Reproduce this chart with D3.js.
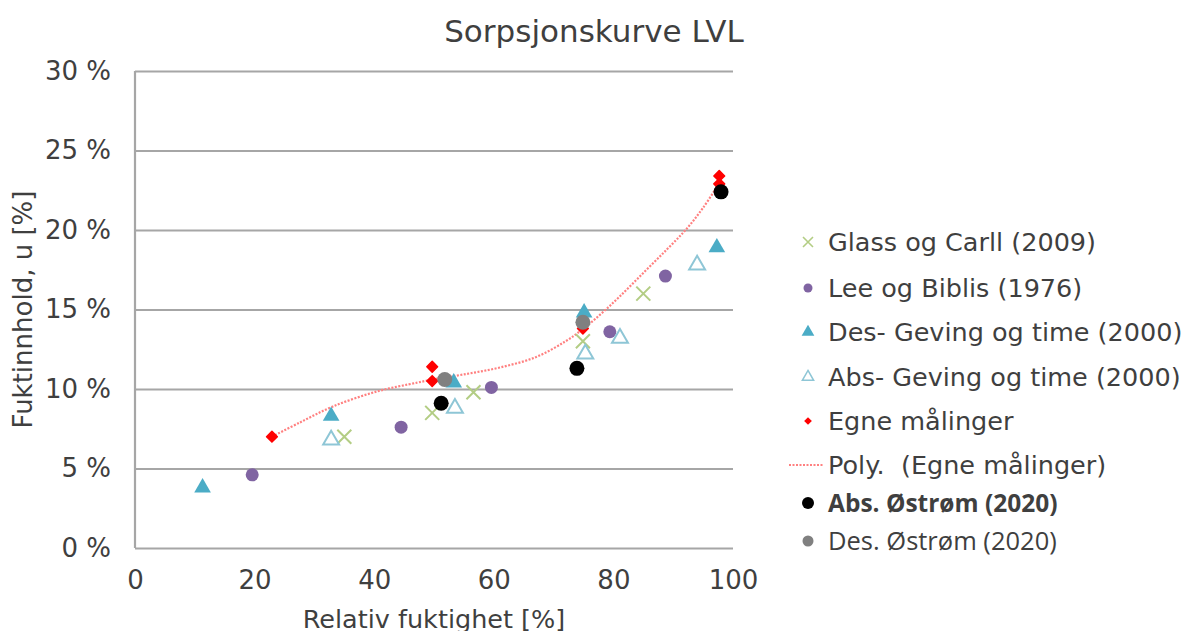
<!DOCTYPE html>
<html>
<head>
<meta charset="utf-8">
<script src="https://cdn.jsdelivr.net/npm/d3@7"></script>
<style>
  html, body { margin: 0; padding: 0; background: #fff; }
  svg { display: block; }
  text { font-family: "DejaVu Sans", Verdana, sans-serif; fill: #3f3f3f; white-space: pre; }
</style>
</head>
<body>
<svg id="chart" width="1192" height="631"></svg>
<script>
// Relative humidity [%] and moisture content [%] per source
const glassRH = [35.0, 49.7, 56.6, 74.9, 85.0];
const glassU  = [7.0, 8.5, 9.8, 13.0, 16.0];

const leeRH = [19.6, 44.5, 59.6, 79.4, 88.7];
const leeU  = [4.6, 7.6, 10.1, 13.6, 17.1];

const desGevingRH = [11.3, 32.8, 53.3, 75.1, 97.3];
const desGevingU  = [3.8, 8.3, 10.4, 14.8, 18.9];

const absGevingRH = [32.8, 53.5, 75.3, 81.1, 94.0];
const absGevingU  = [6.8, 8.8, 12.2, 13.2, 17.8];

const egneRH = [22.9, 49.7, 49.7, 74.9, 97.7, 97.7];
const egneU  = [7.0, 11.4, 10.5, 13.8, 23.4, 22.9];

// Trend line (polynomial fit of own measurements), sampled along the curve
const polyRH = [22.9, 27.6, 33.1, 40.5, 47.2, 49.8, 55.5, 61.0, 67.0, 72.0, 75.0, 78.0, 81.0, 85.0, 89.0, 92.3, 95.0, 97.8];
const polyU  = [7.0, 7.9, 8.9, 9.85, 10.4, 10.6, 10.95, 11.35, 12.0, 13.0, 13.8, 14.75, 15.8, 17.3, 18.8, 20.1, 21.4, 23.0];

const absOstromRH = [51.2, 73.9, 98.0];
const absOstromU  = [9.1, 11.3, 22.4];

const desOstromRH = [51.8, 74.9];
const desOstromU  = [10.6, 14.2];

const xTicks = [0, 20, 40, 60, 80, 100];
const yTicks = [0, 5, 10, 15, 20, 25, 30];

const legendLabels = [
  "Glass og Carll (2009)",
  "Lee og Biblis (1976)",
  "Des- Geving og time (2000)",
  "Abs- Geving og time (2000)",
  "Egne målinger",
  "Poly.  (Egne målinger)",
  "Abs. Østrøm (2020)",
  "Des. Østrøm (2020)"
];

const zip = (xs, ys) => xs.map((v, i) => [v, ys[i]]);

const svg = d3.select("#chart");

const x = d3.scaleLinear().domain([0, 100]).range([135, 733]);
const y = d3.scaleLinear().domain([0, 30]).range([548, 71]);

const gridColor = "#a6a6a6";
const font = "'DejaVu Sans', Verdana, sans-serif";

// Horizontal gridlines and y tick labels
const yAxis = svg.append("g")
  .attr("transform", `translate(${x(0)},0)`)
  .call(d3.axisLeft(y).tickValues(yTicks).tickSize(-(x(100) - x(0))).tickPadding(24)
    .tickFormat(d => d + " %"));
yAxis.select(".domain").remove();
yAxis.selectAll(".tick line").attr("stroke", gridColor).attr("stroke-width", 2.2);
yAxis.selectAll(".tick text").style("font-size", "26px").attr("fill", "#3f3f3f")
  .style("font-family", font);

// Vertical axis line
svg.append("line")
  .attr("x1", x(0)).attr("x2", x(0))
  .attr("y1", y(30)).attr("y2", y(0))
  .attr("stroke", gridColor).attr("stroke-width", 2.2);

// X tick labels
const xAxis = svg.append("g")
  .attr("transform", `translate(0,${y(0)})`)
  .call(d3.axisBottom(x).tickValues(xTicks).tickSize(0).tickPadding(23));
xAxis.select(".domain").remove();
xAxis.selectAll(".tick text").style("font-size", "26px").attr("fill", "#3f3f3f")
  .style("font-family", font);

// Title and axis titles
svg.append("text")
  .attr("x", 594).attr("y", 42)
  .attr("text-anchor", "middle")
  .style("font-size", "31px")
  .text("Sorpsjonskurve LVL");

svg.append("text")
  .attr("x", (x(0) + x(100)) / 2).attr("y", 628)
  .attr("text-anchor", "middle")
  .style("font-size", "25.5px")
  .text("Relativ fuktighet [%]");

svg.append("text")
  .attr("transform", `translate(32,${(y(0) + y(30)) / 2}) rotate(-90)`)
  .attr("text-anchor", "middle")
  .style("font-size", "26px")
  .text("Fuktinnhold, u [%]");

// Colours
const cGlass = "#b3cd84";
const cLee = "#8064a2";
const cDes = "#4bacc6";
const cAbs = "#8ec6d6";
const cEgne = "#ff0000";
const cPoly = "#ff8080";

const plot = svg.append("g");

// Trend line
plot.append("path")
  .datum(zip(polyRH, polyU))
  .attr("fill", "none")
  .attr("stroke", cPoly)
  .attr("stroke-width", 2.2)
  .attr("stroke-dasharray", "2,1.5")
  .attr("d", d3.line().x(d => x(d[0])).y(d => y(d[1])).curve(d3.curveCatmullRom.alpha(0.5)));

const tri = d3.symbol().type(d3.symbolTriangle);

// Glass og Carll: crosses
plot.selectAll(".glassx").data(zip(glassRH, glassU)).join("path")
  .attr("d", d => {
    const cx = x(d[0]), cy = y(d[1]), r = 7;
    return `M${cx - r},${cy - r}L${cx + r},${cy + r}M${cx - r},${cy + r}L${cx + r},${cy - r}`;
  })
  .attr("stroke", cGlass).attr("stroke-width", 2).attr("fill", "none");

// Lee og Biblis: purple dots
plot.selectAll(".lee").data(zip(leeRH, leeU)).join("circle")
  .attr("cx", d => x(d[0])).attr("cy", d => y(d[1])).attr("r", 6.5)
  .attr("fill", cLee);

// Geving og time, desorption: filled triangles
plot.selectAll(".des").data(zip(desGevingRH, desGevingU)).join("path")
  .attr("transform", d => `translate(${x(d[0])},${y(d[1])})`)
  .attr("d", tri.size(120)())
  .attr("fill", cDes);

// Geving og time, absorption: open triangles
plot.selectAll(".abs").data(zip(absGevingRH, absGevingU)).join("path")
  .attr("transform", d => `translate(${x(d[0])},${y(d[1])})`)
  .attr("d", tri.size(110)())
  .attr("fill", "#fff").attr("stroke", cAbs).attr("stroke-width", 2);

// Own measurements: small red diamonds
plot.selectAll(".egne").data(zip(egneRH, egneU)).join("path")
  .attr("transform", d => `translate(${x(d[0])},${y(d[1])}) rotate(45)`)
  .attr("d", d3.symbol().type(d3.symbolSquare).size(58)())
  .attr("fill", cEgne).attr("stroke", cEgne).attr("stroke-width", 1.5).attr("stroke-linejoin", "round");

// Østrøm desorption: grey dots
plot.selectAll(".desO").data(zip(desOstromRH, desOstromU)).join("circle")
  .attr("cx", d => x(d[0])).attr("cy", d => y(d[1])).attr("r", 7.5)
  .attr("fill", "#808080");

// Østrøm absorption: black dots
plot.selectAll(".absO").data(zip(absOstromRH, absOstromU)).join("circle")
  .attr("cx", d => x(d[0])).attr("cy", d => y(d[1])).attr("r", 7.5)
  .attr("fill", "#000");

// Legend
const legendY = [242, 288, 332, 377, 421, 465, 503, 541];
const lg = svg.append("g");
const mx = 808, tx = 828;

lg.append("path")
  .attr("d", `M${mx - 5},${legendY[0] - 5}L${mx + 5},${legendY[0] + 5}M${mx - 5},${legendY[0] + 5}L${mx + 5},${legendY[0] - 5}`)
  .attr("stroke", cGlass).attr("stroke-width", 1.6);
lg.append("circle").attr("cx", mx).attr("cy", legendY[1]).attr("r", 4.5).attr("fill", cLee);
lg.append("path").attr("transform", `translate(${mx},${legendY[2]})`)
  .attr("d", tri.size(70)()).attr("fill", cDes);
lg.append("path").attr("transform", `translate(${mx},${legendY[3]})`)
  .attr("d", tri.size(55)()).attr("fill", "#fff").attr("stroke", cAbs).attr("stroke-width", 1.5);
lg.append("path").attr("transform", `translate(${mx},${legendY[4]}) rotate(45)`)
  .attr("d", d3.symbol().type(d3.symbolSquare).size(30)()).attr("fill", cEgne);
lg.append("line").attr("x1", 789).attr("x2", 824).attr("y1", legendY[5]).attr("y2", legendY[5])
  .attr("stroke", cPoly).attr("stroke-width", 2).attr("stroke-dasharray", "2,1.5");
lg.append("circle").attr("cx", mx).attr("cy", legendY[6]).attr("r", 6).attr("fill", "#000");
lg.append("circle").attr("cx", mx).attr("cy", legendY[7]).attr("r", 5.5).attr("fill", "#808080");

legendLabels.forEach((label, i) => {
  const t = lg.append("text")
    .attr("x", tx).attr("y", legendY[i])
    .attr("dy", "0.35em")
    .text(label);
  if (i < 6) {
    t.style("font-size", "25.5px");
  } else {
    t.style("font-family", "'Open Sans', 'Liberation Sans', sans-serif");
    if (i === 6) t.style("font-size", "24.5px").style("font-weight", "bold").attr("fill", "#000");
    else t.style("font-size", "25.5px").attr("fill", "#7f7f7f");
  }
});
</script>
</body>
</html>
